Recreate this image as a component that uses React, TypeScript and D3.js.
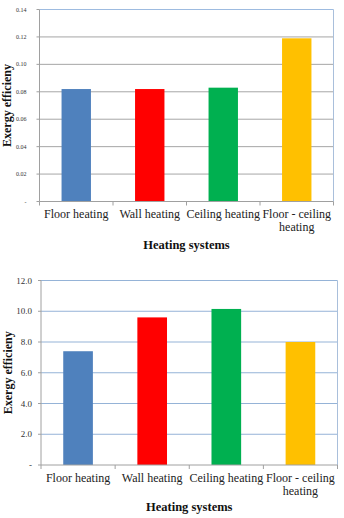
import React from "react";
import * as d3 from "d3";

const categories = ["Floor heating", "Wall heating", "Ceiling heating", "Floor - ceiling|heating"];
const barColors = ["#4F81BD", "#FF0000", "#00B050", "#FFC000"];
const topValues = [0.082, 0.082, 0.083, 0.119];
const topTicks = [0, 0.02, 0.04, 0.06, 0.08, 0.1, 0.12, 0.14];
const bottomValues = [7.4, 9.6, 10.15, 8.0];
const bottomTicks = [0, 2, 4, 6, 8, 10, 12];
const yTitle = "Exergy efficieny";
const xTitle = "Heating systems";

type ChartProps = {
  values: number[];
  ticks: number[];
  yMax: number;
  fmt: (v: number) => string;
  left: number;
  right: number;
  top: number;
  bottom: number;
  gridColor: string;
  tickFont: number;
  labelGap: number;
  yTitleX: number;
  catBaseline: number;
  titleBaseline: number;
};

const FONT = "'Liberation Serif', 'Times New Roman', serif";

function Chart(p: ChartProps) {
  const x = d3
    .scaleBand<string>()
    .domain(categories)
    .range([p.left, p.right])
    .paddingInner(0.6)
    .paddingOuter(0.3);
  const y = d3.scaleLinear().domain([0, p.yMax]).range([p.bottom, p.top]);
  const step = x.step();
  const boundaries = d3.range(categories.length + 1).map((i) => p.left + i * step);
  return (
    <g>
      {p.ticks.map((t, i) =>
        t === 0 || t === p.yMax ? null : (
          <line key={"g" + i} x1={p.left} x2={p.right} y1={y(t)} y2={y(t)} stroke={p.gridColor} strokeWidth={1} />
        )
      )}
      <line x1={p.left} x2={p.right} y1={y(p.yMax)} y2={y(p.yMax)} stroke={p.gridColor === "#A6A6A6" ? "#9DBBE0" : p.gridColor} strokeWidth={1} />
      <line x1={p.right} x2={p.right} y1={y(p.yMax)} y2={p.bottom} stroke="#A9BFDB" strokeWidth={1} />
      {categories.map((c, i) => (
        <rect
          key={c}
          x={x(c)}
          y={y(p.values[i])}
          width={x.bandwidth()}
          height={p.bottom - y(p.values[i])}
          fill={barColors[i]}
        />
      ))}
      <line x1={p.left} x2={p.left} y1={y(p.yMax)} y2={p.bottom} stroke="#A0A0A0" strokeWidth={1} />
      <line x1={p.left} x2={p.right} y1={p.bottom} y2={p.bottom} stroke="#A0A0A0" strokeWidth={1} />
      {p.ticks.map((t, i) => (
        <g key={"t" + i}>
          <line x1={p.left - 3} x2={p.left} y1={y(t)} y2={y(t)} stroke="#A0A0A0" />
          <text
            x={p.left - p.labelGap}
            y={y(t)}
            textAnchor="end"
            dominantBaseline="central"
            fontFamily={FONT}
            fontSize={p.tickFont}
            fill="#333"
          >
            {p.fmt(t)}
          </text>
        </g>
      ))}
      {boundaries.map((b, i) => (
        <line key={"b" + i} x1={b} x2={b} y1={p.bottom} y2={p.bottom + 4} stroke="#A0A0A0" />
      ))}
      {categories.map((c) => {
        const lines = c.split("|");
        const cx = (x(c) as number) + x.bandwidth() / 2;
        return (
          <text key={"l" + c} x={cx} y={p.catBaseline} textAnchor="middle" fontFamily={FONT} fontSize={12} fill="#222">
            {lines.map((l, j) => (
              <tspan key={j} x={cx} dy={j === 0 ? 0 : 13}>
                {l}
              </tspan>
            ))}
          </text>
        );
      })}
      <text
        x={(p.left + p.right) / 2}
        y={p.titleBaseline}
        textAnchor="middle"
        fontFamily={FONT}
        fontSize={12.5}
        fontWeight="bold"
        fill="#111"
      >
        {xTitle}
      </text>
      <text
        transform={`translate(${p.yTitleX},${(p.top + p.bottom) / 2}) rotate(-90)`}
        textAnchor="middle"
        dominantBaseline="central"
        fontFamily={FONT}
        fontSize={12}
        fontWeight="bold"
        fill="#111"
      >
        {yTitle}
      </text>
    </g>
  );
}

export default function App() {
  return (
    <svg width={344} height={518} style={{ position: "absolute", left: 0, top: 0, background: "#fff" }}>
      <rect width={344} height={518} fill="#fff" />
      <Chart
        values={topValues}
        ticks={topTicks}
        yMax={0.14}
        fmt={(v) => (v === 0 ? "-" : d3.format(".2f")(v))}
        left={39.5}
        right={333.5}
        top={9.5}
        bottom={201.5}
        gridColor="#A6A6A6"
        tickFont={6}
        labelGap={13}
        yTitleX={7}
        catBaseline={218}
        titleBaseline={249}
      />
      <Chart
        values={bottomValues}
        ticks={bottomTicks}
        yMax={12}
        fmt={(v) => (v === 0 ? "-" : d3.format(".1f")(v))}
        left={41}
        right={337.5}
        top={280.5}
        bottom={465}
        gridColor="#95B3D7"
        tickFont={9}
        labelGap={9}
        yTitleX={7.5}
        catBaseline={481.5}
        titleBaseline={511}
      />
    </svg>
  );
}
